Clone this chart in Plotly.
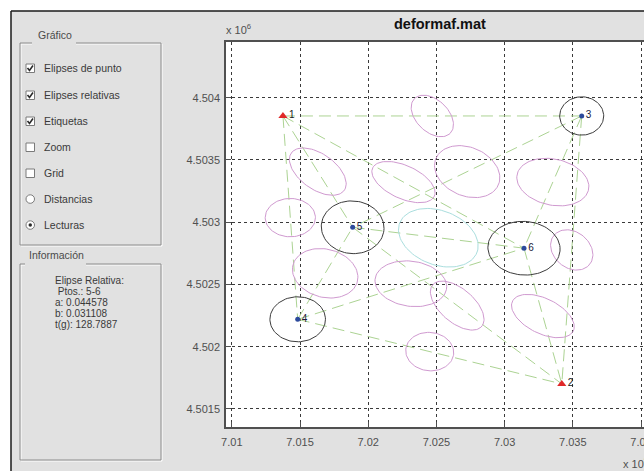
import numpy as np
import plotly.graph_objects as go

# ---------------- data ----------------
station_names = ["1", "2", "3", "4", "5", "6"]
station_x = [701375, 703419, 703565, 701483, 701886, 703142]
station_y = [4503853, 4501701, 4503853, 4502220, 4502959, 4502791]
fixed_stations = ["1", "2"]

# observed lines (relative ellipses at their midpoints)
line_from = ["1", "1", "1", "1", "4", "3", "3", "3", "5", "4", "6", "5", "4"]
line_to   = ["3", "5", "4", "6", "5", "5", "6", "2", "6", "6", "2", "2", "2"]
rel_a = [0.0278, 0.0356, 0.0267, 0.0367, 0.0356, 0.0367, 0.0390, 0.0256, 0.044578, 0.0384, 0.0367, 0.0356, 0.0256]
rel_b = [0.0178, 0.0200, 0.0223, 0.0189, 0.0278, 0.0278, 0.0267, 0.0200, 0.031108, 0.0262, 0.0200, 0.0189, 0.0223]
rel_t = [155.6, 144.4, 100.0, 131.1, 122.2, 133.3, 116.7, 155.6, 128.7887, 111.1, 133.3, 150.0, 111.1]  # gon

# point ellipses of free stations
pt_names = ["3", "4", "5", "6"]
pt_a = [0.0234, 0.0295, 0.0334, 0.0384]
pt_b = [0.0223, 0.0262, 0.0306, 0.0312]
pt_t = [100.0, 100.0, 111.1, 105.6]

ELLIPSE_SCALE = 6900
selected_pair = ("5", "6")

x_ticks = [701000, 701500, 702000, 702500, 703000, 703500, 704000]
x_ticktext = ["7.01", "7.015", "7.02", "7.025", "7.03", "7.035", "7.04"]
y_ticks = [4501500, 4502000, 4502500, 4503000, 4503500, 4504000]
y_ticktext = ["4.5015", "4.502", "4.5025", "4.503", "4.5035", "4.504"]
x_range = [700957.5, 704139]
y_range = [4501355, 4504447]

title_text = "deformaf.mat"
checkbox_labels = ["Elipses de punto", "Elipses relativas", "Etiquetas", "Zoom", "Grid"]
checkbox_state = [True, True, True, False, False]
radio_labels = ["Distancias", "Lecturas"]
radio_state = [False, True]
info_lines = ["Elipse Relativa:", " Ptos.: 5-6", "a: 0.044578", "b: 0.031108", "t(g): 128.7887"]

# ---------------- helpers ----------------
pos = {n: (x, y) for n, x, y in zip(station_names, station_x, station_y)}
S = np.linspace(0, 2 * np.pi, 91)


def ellipse(cx, cy, a, b, t_gon):
    az = t_gon * np.pi / 200.0
    u = np.array([np.sin(az), np.cos(az)])
    v = np.array([np.cos(az), -np.sin(az)])
    A = a * ELLIPSE_SCALE
    B = b * ELLIPSE_SCALE
    xs = cx + A * np.cos(S) * u[0] + B * np.sin(S) * v[0]
    ys = cy + A * np.cos(S) * u[1] + B * np.sin(S) * v[1]
    return list(xs) + [None], list(ys) + [None]


fig = go.Figure()

# network lines
lx, ly = [], []
for f, t in zip(line_from, line_to):
    lx += [pos[f][0], pos[t][0], None]
    ly += [pos[f][1], pos[t][1], None]
fig.add_trace(go.Scatter(x=lx, y=ly, mode="lines",
                         line=dict(color="#acd393", width=1, dash="12px,6px"),
                         hoverinfo="skip", showlegend=False))

# relative ellipses
px_, py_, cx_, cy_ = [], [], [], []
for f, t, a, b, g in zip(line_from, line_to, rel_a, rel_b, rel_t):
    mx = (pos[f][0] + pos[t][0]) / 2
    my = (pos[f][1] + pos[t][1]) / 2
    ex, ey = ellipse(mx, my, a, b, g)
    if (f, t) == selected_pair:
        cx_ += ex; cy_ += ey
    else:
        px_ += ex; py_ += ey
fig.add_trace(go.Scatter(x=px_, y=py_, mode="lines", line=dict(color="#d09ad0", width=1),
                         hoverinfo="skip", showlegend=False))
fig.add_trace(go.Scatter(x=cx_, y=cy_, mode="lines", line=dict(color="#aadede", width=1),
                         hoverinfo="skip", showlegend=False))

# point ellipses
bx, by = [], []
for n, a, b, g in zip(pt_names, pt_a, pt_b, pt_t):
    ex, ey = ellipse(pos[n][0], pos[n][1], a, b, g)
    bx += ex; by += ey
fig.add_trace(go.Scatter(x=bx, y=by, mode="lines", line=dict(color="#3c3c3c", width=1),
                         hoverinfo="skip", showlegend=False))

# stations
fx = [pos[n][0] for n in fixed_stations]
fy = [pos[n][1] for n in fixed_stations]
fig.add_trace(go.Scatter(x=fx, y=fy, mode="markers+text", text=fixed_stations,
                         textposition="middle right",
                         textfont=dict(size=10, color="#1a1a1a", family="Liberation Sans"),
                         marker=dict(symbol="triangle-up", size=8, color="#e02828"),
                         hoverinfo="skip", showlegend=False))
free = [n for n in station_names if n not in fixed_stations]
fig.add_trace(go.Scatter(x=[pos[n][0] for n in free], y=[pos[n][1] for n in free],
                         mode="markers+text", text=free, textposition="middle right",
                         textfont=dict(size=10, color="#1a1a3a", family="Liberation Sans"),
                         marker=dict(symbol="circle", size=5, color="#2c4a9c"),
                         hoverinfo="skip", showlegend=False))

# ---------------- layout / GUI panel ----------------
# the window is 644x471; the figure is a bit wider so the axes run past the
# right edge of the view (as in the original screenshot) and get clipped.
W, H = 680, 471
VIEW_W = 644
L, R, T, B = 226, 20, 42, 44
PW, PH = W - L - R, H - T - B


def X(p):
    return (p - L) / PW


def Y(p):
    return (H - B - p) / PH


GRAY = "#e1e1e1"
shapes = []
annotations = []

# white strips outside the window
shapes.append(dict(type="rect", xref="paper", yref="paper", x0=X(0), x1=X(11), y0=Y(H), y1=Y(0),
                   fillcolor="white", line=dict(width=0), layer="below"))
shapes.append(dict(type="rect", xref="paper", yref="paper", x0=X(0), x1=X(W), y0=Y(11), y1=Y(0),
                   fillcolor="white", line=dict(width=0), layer="below"))
# window border
shapes.append(dict(type="line", xref="paper", yref="paper", x0=X(11), x1=X(11), y0=Y(11), y1=Y(H),
                   line=dict(color="#1a1a1a", width=1.5)))
shapes.append(dict(type="line", xref="paper", yref="paper", x0=X(11), x1=X(W), y0=Y(11), y1=Y(11),
                   line=dict(color="#1a1a1a", width=1.5)))


def hline(x0, x1, y, color):
    shapes.append(dict(type="line", xref="paper", yref="paper", x0=X(x0), x1=X(x1), y0=Y(y), y1=Y(y),
                       line=dict(color=color, width=1)))


def vline(x, y0, y1, color):
    shapes.append(dict(type="line", xref="paper", yref="paper", x0=X(x), x1=X(x), y0=Y(y0), y1=Y(y1),
                       line=dict(color=color, width=1)))


def frame(x0, y0, x1, y1, g0, g1):
    for off, col in ((1, "white"), (0, "#8a8a8a")):
        hline(x0 + off, g0, y0 + off, col)
        hline(g1, x1 + off, y0 + off, col)
        hline(x0 + off, x1 + off, y1 + off, col)
        vline(x0 + off, y0 + off, y1 + off, col)
        vline(x1 + off, y0 + off, y1 + off, col)


frame(20, 43, 161, 245, 32, 76)
frame(20, 264, 161, 460, 25, 86)

FONT = "Liberation Sans"
annotations.append(dict(x=X(36), y=Y(35), xref="paper", yref="paper", text="Gráfico",
                        xanchor="left", yanchor="middle", showarrow=False,
                        font=dict(size=10.5, color="#4a4a4a", family=FONT)))
annotations.append(dict(x=X(27), y=Y(255), xref="paper", yref="paper", text="Información",
                        xanchor="left", yanchor="middle", showarrow=False,
                        font=dict(size=10.5, color="#4a4a4a", family=FONT)))

row_y = [68, 95, 121, 147, 173, 199, 225]
for i, (lab, st) in enumerate(zip(checkbox_labels, checkbox_state)):
    cy = row_y[i]
    shapes.append(dict(type="rect", xref="paper", yref="paper", x0=X(26), x1=X(34.5),
                       y0=Y(cy + 4.5), y1=Y(cy - 4), fillcolor="white",
                       line=dict(color="#7a7a7a", width=1)))
    if st:
        path = "M %f,%f L %f,%f L %f,%f" % (X(27.5), Y(cy), X(29.5), Y(cy + 2.5), X(33), Y(cy - 2.5))
        shapes.append(dict(type="path", xref="paper", yref="paper", path=path,
                           line=dict(color="#2a2a2a", width=1.6)))
    annotations.append(dict(x=X(42), y=Y(cy), xref="paper", yref="paper", text=lab,
                            xanchor="left", yanchor="middle", showarrow=False,
                            font=dict(size=10.5, color="#3a3a3a", family=FONT)))
for j, (lab, st) in enumerate(zip(radio_labels, radio_state)):
    cy = row_y[len(checkbox_labels) + j]
    shapes.append(dict(type="circle", xref="paper", yref="paper", x0=X(26), x1=X(34.5),
                       y0=Y(cy + 4.3), y1=Y(cy - 4.2), fillcolor="white",
                       line=dict(color="#7a7a7a", width=1)))
    if st:
        shapes.append(dict(type="circle", xref="paper", yref="paper", x0=X(28.5), x1=X(32),
                           y0=Y(cy + 1.8), y1=Y(cy - 1.7), fillcolor="#2a2a2a",
                           line=dict(color="#2a2a2a", width=0)))
    annotations.append(dict(x=X(42), y=Y(cy), xref="paper", yref="paper", text=lab,
                            xanchor="left", yanchor="middle", showarrow=False,
                            font=dict(size=10.5, color="#3a3a3a", family=FONT)))

for k, line in enumerate(info_lines):
    annotations.append(dict(x=X(53), y=Y(280 + 11 * k), xref="paper", yref="paper",
                            text=line.replace(" ", "&nbsp;", 1) if line.startswith(" ") else line,
                            xanchor="left", yanchor="middle", showarrow=False,
                            font=dict(size=10, color="#3a3a3a", family=FONT)))

# title and exponents
annotations.append(dict(x=X(440), y=Y(24), xref="paper", yref="paper", text="<b>" + title_text + "</b>",
                        xanchor="center", yanchor="middle", showarrow=False,
                        font=dict(size=14.5, color="#111111", family=FONT)))
annotations.append(dict(x=X(224), y=Y(29), xref="paper", yref="paper", text="x 10<sup>6</sup>",
                        xanchor="left", yanchor="middle", showarrow=False,
                        font=dict(size=11, color="#505050", family=FONT)))
annotations.append(dict(x=X(621), y=Y(463), xref="paper", yref="paper", text="x 10<sup>5</sup>",
                        xanchor="left", yanchor="middle", showarrow=False,
                        font=dict(size=11, color="#505050", family=FONT)))

axis_common = dict(showgrid=True, gridcolor="#3a3a3a", gridwidth=1, griddash="3px,3px",
                   zeroline=False, showline=True, linecolor="#505050", linewidth=1.5,
                   mirror=True, ticks="inside", ticklen=5, tickcolor="#505050",
                   tickfont=dict(size=11, color="#505050", family=FONT), fixedrange=True,
                   automargin=False)

fig.update_layout(
    width=W, height=H,
    margin=dict(l=L, r=R, t=T, b=B, pad=0, autoexpand=False),
    paper_bgcolor=GRAY, plot_bgcolor="white",
    xaxis=dict(range=x_range, tickmode="array", tickvals=x_ticks, ticktext=x_ticktext,
               ticklabelstandoff=4, **axis_common),
    yaxis=dict(range=y_range, tickmode="array", tickvals=y_ticks, ticktext=y_ticktext,
               ticklabelstandoff=2, **axis_common),
    shapes=shapes, annotations=annotations,
    hovermode=False, showlegend=False,
)

fig.write_html("out.html", config={"displayModeBar": False},
               post_script="document.body.style.margin='0';document.body.style.padding='0';"
                           "document.body.style.overflow='hidden';"
                           "document.documentElement.style.overflow='hidden';")
